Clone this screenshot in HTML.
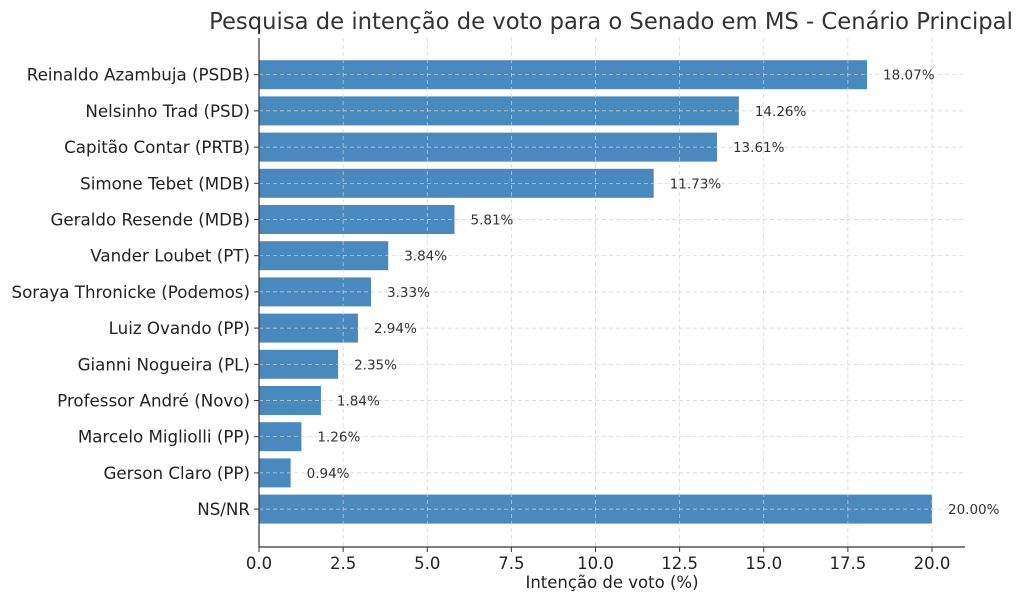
<!DOCTYPE html>
<html><head><meta charset="utf-8"><style>body{margin:0;background:#fff}svg{display:block}</style></head><body>
<svg width="1024" height="602" xmlns="http://www.w3.org/2000/svg" font-family="'DejaVu Sans','Liberation Sans',sans-serif">
<rect width="1024" height="602" fill="#fff"/>
<text x="611" y="29" font-size="22.7" text-anchor="middle" fill="#333">Pesquisa de intenção de voto para o Senado em MS - Cenário Principal</text>
<g id="bars"></g>
<g id="grid" stroke="#d0d0d0" stroke-dasharray="4,3" stroke-width="0.7"></g>
<g id="lab" font-size="16.7" fill="#222" text-anchor="end"></g>
<g id="val" font-size="13.5" fill="#333"></g>
<g id="xt" font-size="16.5" fill="#222" text-anchor="middle"></g>
<line x1="259" y1="38" x2="259" y2="547" stroke="#333" stroke-width="1.2"/>
<line x1="259" y1="547" x2="965" y2="547" stroke="#333" stroke-width="1.2"/>
<text x="612" y="588" font-size="16.5" text-anchor="middle" fill="#222">Intenção de voto (%)</text>
<script>
var d=[["Reinaldo Azambuja (PSDB)",18.07],["Nelsinho Trad (PSD)",14.26],["Capitão Contar (PRTB)",13.61],["Simone Tebet (MDB)",11.73],["Geraldo Resende (MDB)",5.81],["Vander Loubet (PT)",3.84],["Soraya Thronicke (Podemos)",3.33],["Luiz Ovando (PP)",2.94],["Gianni Nogueira (PL)",2.35],["Professor André (Novo)",1.84],["Marcelo Migliolli (PP)",1.26],["Gerson Claro (PP)",0.94],["NS/NR",20.00]];
var ns="http://www.w3.org/2000/svg",s=33.65,x0=259;
function el(g,t,a,tx){var e=document.createElementNS(ns,t);for(var k in a)e.setAttribute(k,a[k]);if(tx)e.textContent=tx;document.getElementById(g).appendChild(e);}
d.forEach(function(r,i){var c=74.7+i*36.2;
el("bars","rect",{x:x0,y:c-14.5,width:r[1]*s,height:29,fill:"#4a89be"});
el("grid","line",{x1:x0,x2:965,y1:c,y2:c});
el("lab","text",{x:250,y:c+6},r[0]);
el("lab","line",{x1:254,x2:259,y1:c,y2:c,stroke:"#333"});
el("val","text",{x:x0+r[1]*s+16,y:c+5},r[1].toFixed(2)+"%");});
for(var i=0;i<=8;i++){var x=x0+i*2.5*s;
el("grid","line",{x1:x,x2:x,y1:38,y2:547});
el("xt","line",{x1:x,x2:x,y1:547,y2:552,stroke:"#333"});
el("xt","text",{x:x,y:569},(i*2.5).toFixed(1));}
</script>
</svg>
</body></html>
